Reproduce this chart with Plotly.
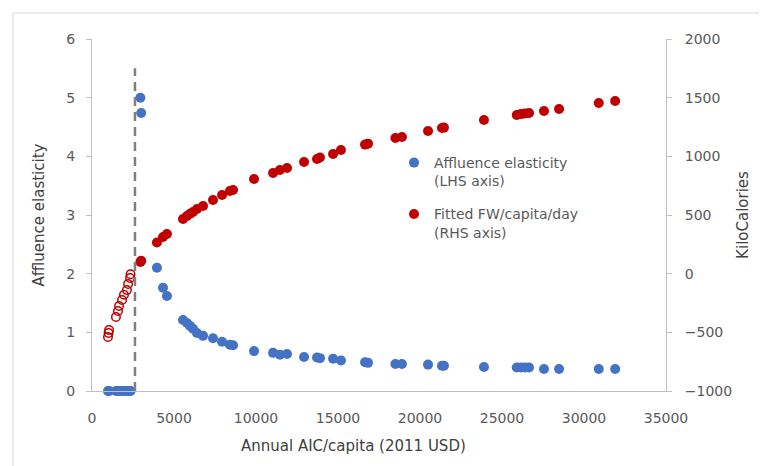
import plotly.graph_objects as go

# Low-income group (elasticity zero, fitted FW shown as open circles)
low_x = [975, 1010, 1040, 1460, 1585, 1650, 1830, 1950, 2130, 2200, 2320, 2350]
low_elast = [0, 0, 0, 0, 0, 0, 0, 0, 0, 0, 0, 0]
low_fw = [-540, -505, -480, -370, -318, -275, -225, -180, -140, -88, -37, -5]

# Remaining countries
inc_x = [2950, 3000, 3960, 4330, 4570, 5550, 5790, 5980, 6160, 6400, 6770, 7380,
         7930, 8410, 8600, 9880, 11040, 11460, 11890, 12930, 13720, 13900, 14700,
         15180, 16650, 16830, 18500, 18900, 20490, 21340, 21460, 23900, 25900,
         26160, 26400, 26650, 27560, 28480, 30900, 31900]
inc_elast = [5.0, 4.74, 2.10, 1.76, 1.62, 1.21, 1.16, 1.11, 1.06, 0.99, 0.94, 0.90,
             0.84, 0.79, 0.78, 0.68, 0.65, 0.62, 0.63, 0.58, 0.57, 0.56, 0.55,
             0.52, 0.49, 0.48, 0.46, 0.46, 0.45, 0.43, 0.43, 0.41, 0.40,
             0.40, 0.40, 0.40, 0.375, 0.375, 0.375, 0.375]
inc_fw = [100, 110, 265, 312, 338, 466, 491, 510, 525, 551, 577, 628,
          670, 704, 713, 807, 858, 883, 900, 952, 977, 990, 1020,
          1054, 1100, 1108, 1156, 1165, 1216, 1241, 1245, 1310, 1352,
          1360, 1365, 1370, 1386, 1403, 1455, 1472]

x_ticks = [0, 5000, 10000, 15000, 20000, 25000, 30000, 35000]
y_ticks = [0, 1, 2, 3, 4, 5, 6]
y2_ticks = [-1000, -500, 0, 500, 1000, 1500, 2000]

threshold_x = 2620
threshold_top = 5.5

BLUE = "#4472C4"
RED = "#C00000"
FONT = "DejaVu Sans"
GREY_TXT = "#595959"

fig = go.Figure()

fig.add_trace(go.Scatter(
    x=low_x + inc_x, y=low_elast + inc_elast, mode="markers",
    name="Affluence elasticity<br>(LHS axis)", legendgroup="a",
    marker=dict(color=BLUE, size=10), cliponaxis=False, yaxis="y"))
fig.add_trace(go.Scatter(
    x=inc_x, y=inc_fw, mode="markers", legendgroup="b",
    name="Fitted FW/capita/day<br>(RHS axis)",
    marker=dict(color=RED, size=10), cliponaxis=False, yaxis="y2"))
fig.add_trace(go.Scatter(
    x=low_x, y=low_fw, mode="markers", showlegend=False,
    marker=dict(color="rgba(0,0,0,0)", size=8.5, line=dict(color=RED, width=1.5)),
    cliponaxis=False, yaxis="y2"))

fig.add_shape(type="line", xref="x", yref="y",
              x0=threshold_x, x1=threshold_x, y0=0, y1=threshold_top,
              line=dict(color="#7f7f7f", width=2.5, dash="9px,6px"))

# chart area border
fig.add_shape(type="rect", xref="paper", yref="paper",
              x0=-(92 - 13) / 574, x1=1.3, y0=-0.4, y1=(391 - 13) / 352,
              line=dict(color="#d9d9d9", width=1), layer="below")

axis_common = dict(showgrid=False, zeroline=False, showline=True, automargin=False,
                   linecolor="#bfbfbf", linewidth=1,
                   tickfont=dict(family=FONT, size=14, color=GREY_TXT))

# page body adds an 8px offset, margins compensate
fig.update_layout(
    width=767, height=466,
    margin=dict(l=84, r=109, t=31, b=83, autoexpand=False),
    paper_bgcolor="white", plot_bgcolor="white",
    font=dict(family=FONT, color=GREY_TXT),
    xaxis=dict(range=[0, 35000], tickvals=x_ticks, tickformat="d",
               ticks="", ticklabelstandoff=14, **axis_common),
    yaxis=dict(range=[0, 6], tickvals=y_ticks, ticks="outside", ticklen=5,
               tickcolor="#bfbfbf", ticklabelstandoff=8,
               title=dict(text="Affluence elasticity", font=dict(family=FONT, size=15, color="#404040"),
                          standoff=18),
               **axis_common),
    yaxis2=dict(range=[-1000, 2000], tickvals=y2_ticks, tickformat="d",
                overlaying="y", side="right", ticks="outside", ticklen=5, tickcolor="#bfbfbf",
                ticklabelstandoff=10,
                title=dict(text="KiloCalories", font=dict(family=FONT, size=15, color="#404040"),
                           standoff=6),
                **axis_common),
    legend=dict(x=(394 - 92) / 574, y=(391 - 147) / 352, xanchor="left", yanchor="top",
                bgcolor="rgba(0,0,0,0)", font=dict(family=FONT, size=14, color=GREY_TXT),
                itemwidth=30, tracegroupgap=12, valign="top", itemclick=False),
    showlegend=True,
)

fig.add_annotation(text="Annual AIC/capita (2011 USD)", xref="paper", yref="paper",
                   x=(353 - 92) / 574, y=-(446 - 391) / 352, xanchor="center", yanchor="middle",
                   showarrow=False, font=dict(family=FONT, size=15, color="#404040"))

fig.write_html("out.html")
